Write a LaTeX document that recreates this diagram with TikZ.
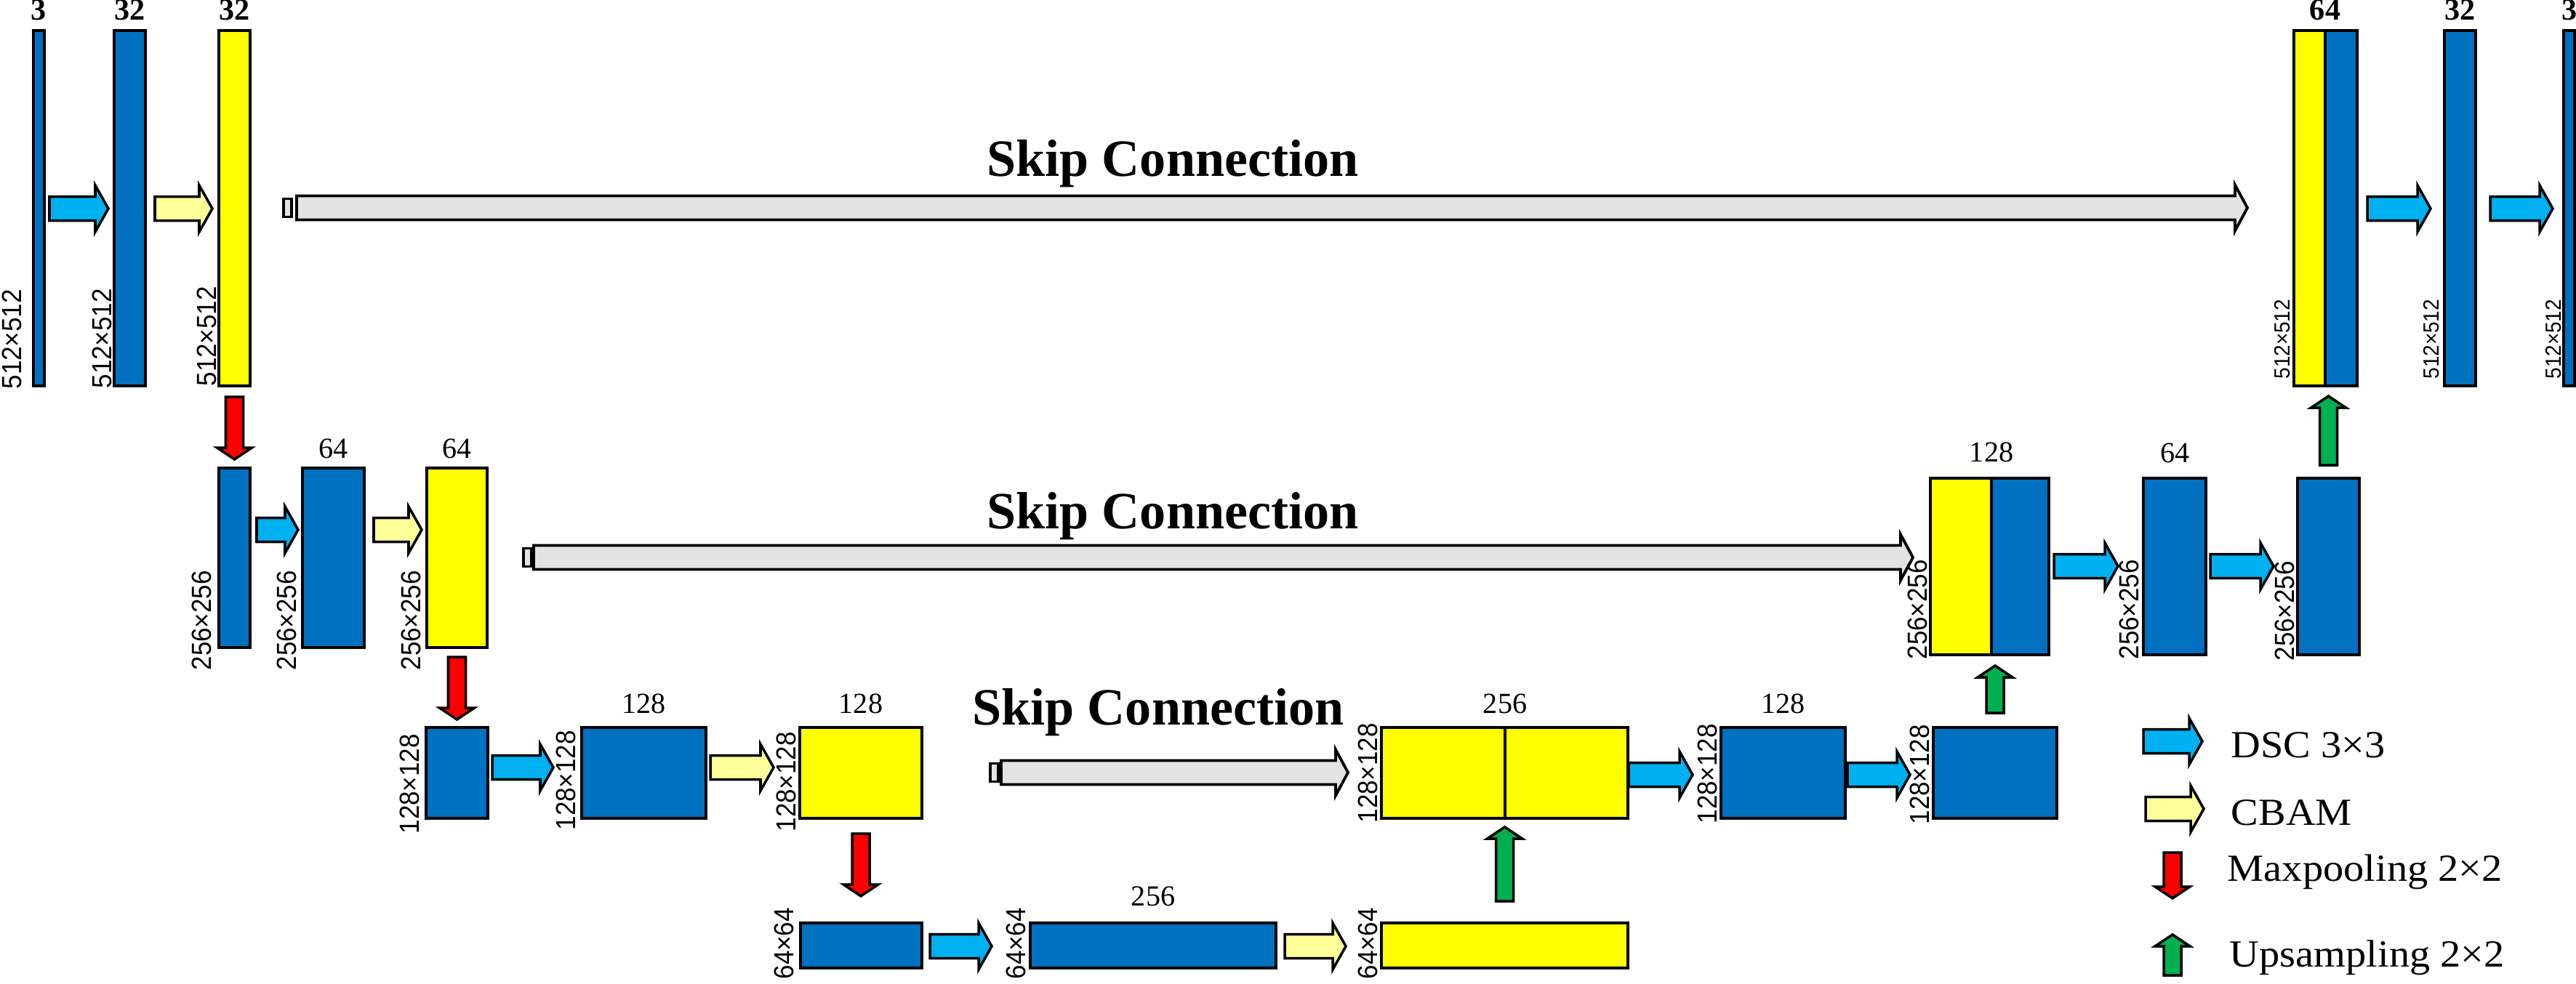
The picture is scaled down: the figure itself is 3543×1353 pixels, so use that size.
\documentclass[tikz,border=0pt]{standalone}
\usepackage{fontspec}
\setmainfont{Liberation Serif}
\newfontfamily\dimfont{Liberation Sans}[FakeStretch=0.92]
\newfontfamily\legfont{Liberation Serif}[FakeStretch=1.07]
\usetikzlibrary{calc,fit,positioning}

\definecolor{mapblue}{HTML}{0070C0}
\definecolor{mapyellow}{HTML}{FFFF00}
\definecolor{dscblue}{HTML}{00B0F0}
\definecolor{cbamyellow}{HTML}{FFFF99}
\definecolor{poolred}{HTML}{FF0000}
\definecolor{upgreen}{HTML}{00B050}
\definecolor{skipgray}{HTML}{E3E3E3}

\tikzset{
  bshaft/.store in=\bshaft, bhead/.store in=\bhead, blen/.store in=\blen,
  bmap/.style={draw, line width=0.9pt, fill=mapblue, inner sep=0pt, outer sep=0pt},
  ymap/.style={bmap, fill=mapyellow},
  dsc/.style={draw, line width=1pt, fill=dscblue, bshaft=0.165cm, bhead=0.32cm, blen=0.18cm},
  cbam/.style={dsc, fill=cbamyellow},
  pool/.style={draw, line width=1pt, fill=poolred, bshaft=0.12cm, bhead=0.24cm, blen=0.16cm},
  upsm/.style={pool, fill=upgreen},
  skiparr/.style={draw, line width=1.1pt, fill=skipgray, bshaft=0.165cm, bhead=0.315cm, blen=0.17cm},
  stripe/.style={draw, line width=1.1pt, fill=skipgray, inner sep=0pt, outer sep=0pt, minimum width=0.11cm, minimum height=0.25cm, anchor=west},
  dimlbl/.style={rotate=90, inner sep=0pt, anchor=south west, font=\dimfont\fontsize{10.8}{12}\selectfont},
  dimsmall/.style={dimlbl, font=\dimfont\fontsize{8.6}{10}\selectfont},
  chan/.style={inner sep=0pt, font=\fontsize{11.4}{13}\selectfont},
  chantop/.style={inner sep=0pt, font=\bfseries\fontsize{12}{14}\selectfont},
  skiptxt/.style={inner sep=0pt, anchor=base, font=\bfseries\fontsize{20.5}{24}\selectfont},
  legtxt/.style={inner sep=0pt, anchor=base west, font=\legfont\fontsize{15}{18}\selectfont}
}

% block arrows: style, tail point, tip point
\newcommand{\harrow}[3]{%
  \draw[#1] let \p1=#2, \p2=#3 in
    (\x1,{\y1+\bshaft}) -- ({\x2-\blen},{\y1+\bshaft}) -- ({\x2-\blen},{\y1+\bhead}) -- (\x2,\y1)
    -- ({\x2-\blen},{\y1-\bhead}) -- ({\x2-\blen},{\y1-\bshaft}) -- (\x1,{\y1-\bshaft}) -- cycle;}
\newcommand{\varrow}[3]{%
  \draw[#1] let \p1=#2, \p2=#3, \n1={(\y2-\y1)/abs(\y2-\y1)} in
    ({\x1+\bshaft},\y1) -- ({\x1+\bshaft},{\y2-(\n1)*\blen}) -- ({\x1+\bhead},{\y2-(\n1)*\blen}) -- (\x1,\y2)
    -- ({\x1-\bhead},{\y2-(\n1)*\blen}) -- ({\x1-\bshaft},{\y2-(\n1)*\blen}) -- ({\x1-\bshaft},\y1) -- cycle;}

\begin{document}
\begin{tikzpicture}[x=0.01cm, y=-0.01cm]
\useasboundingbox (0,0) rectangle (3543,1353);

\coordinate (r1) at (0,287);
\coordinate (r2l) at (0,729);
\coordinate (r2r) at (0,779);
\coordinate (r3l) at (0,1056);
\coordinate (r3r) at (0,1066);
\coordinate (r4) at (0,1302);
\coordinate (s1) at (0,286);
\coordinate (s2) at (0,767);
\coordinate (s3) at (0,1063);

%Level 1 (512x512)
\node[bmap, fit={(46,42) (61,531)}] (A) {};
\node[bmap, fit={(157,42) (200,531)}] (B) {};
\node[ymap, fit={(301,42) (344,531)}] (C) {};
\node[ymap, fit={(3155,42) (3198,531)}] (Cat1a) {};
\node[bmap, fit={(3198,42) (3242,531)}] (Cat1b) {};
\node[bmap, fit={(3362,42) (3405,531)}] (R1) {};
\node[bmap, fit={(3526,42) (3541,531)}] (Out) {};

\node[chantop, above=0.13cm of A] (nA) {3};
\node[chantop, above=0.13cm of B] (nB) {32};
\node[chantop, above=0.13cm of C] (nC) {32};
\node[chantop, above=0.13cm of Cat1a.north east] (nCat1) {64};
\node[chantop, above=0.13cm of R1] (nR1) {32};
\node[chantop, above=0.13cm of Out] (nOut) {3};

\node[dimlbl] (dA) at ($(A.south west)+(-15,5)$) {512×512};
\node[dimlbl] (dB) at ($(B.south west)+(-2,4)$) {512×512};
\node[dimlbl] (dC) at ($(C.south west)+(-2,1)$) {512×512};
\node[dimsmall] (dCat1) at ($(Cat1a.south west)+(-5,-9)$) {512×512};
\node[dimsmall] (dR1) at ($(R1.south west)+(-7,-9)$) {512×512};
\node[dimsmall] (dOut) at ($(Out.south west)+(-3,-9)$) {512×512};

\harrow{dsc}{($(A.east|-r1)+(7,0)$)}{($(B.west|-r1)+(-8,0)$)}
\harrow{cbam}{($(B.east|-r1)+(13,0)$)}{($(C.west|-r1)+(-9,0)$)}
\harrow{dsc}{($(Cat1b.east|-r1)+(14,0)$)}{($(R1.west|-r1)+(-19,0)$)}
\harrow{dsc}{($(R1.east|-r1)+(20,0)$)}{($(Out.west|-r1)+(-15,0)$)}

%Level 2 (256x256)
\node[bmap, fit={(301,644) (344,891)}] (D) {};
\node[bmap, fit={(416,644) (501,891)}] (E) {};
\node[ymap, fit={(587,644) (670,891)}] (F) {};
\node[ymap, fit={(2655,658) (2739,901)}] (Cat2a) {};
\node[bmap, fit={(2739,658) (2818,901)}] (Cat2b) {};
\node[bmap, fit={(2948,658) (3034,901)}] (S2) {};
\node[bmap, fit={(3160,658) (3245,901)}] (T2) {};

\node[chan, above=0.12cm of E] (nE) {64};
\node[chan, above=0.12cm of F] (nF) {64};
\node[chan, above=0.21cm of Cat2a.north east] (nCat2) {128};
\node[chan, above=0.2cm of S2] (nS2) {64};

\node[dimlbl] (dD) at ($(D.south west)+(-9,32)$) {256×256};
\node[dimlbl] (dE) at ($(E.south west)+(-7,32)$) {256×256};
\node[dimlbl] (dF) at ($(F.south west)+(-7,32)$) {256×256};
\node[dimlbl] (dCat2) at ($(Cat2a.south west)+(-3,7)$) {256×256};
\node[dimlbl] (dS2) at ($(S2.south west)+(-5,7)$) {256×256};
\node[dimlbl] (dT2) at ($(T2.south west)+(-3,9)$) {256×256};

\harrow{dsc}{($(D.east|-r2l)+(9,0)$)}{($(E.west|-r2l)+(-6,0)$)}
\harrow{cbam}{($(E.east|-r2l)+(13,0)$)}{($(F.west|-r2l)+(-7,0)$)}
\harrow{dsc}{($(Cat2b.east|-r2r)+(7,0)$)}{($(S2.west|-r2r)+(-35,0)$)}
\harrow{dsc}{($(S2.east|-r2r)+(6,0)$)}{($(T2.west|-r2r)+(-33,0)$)}

%Level 3 (128x128)
\node[bmap, fit={(586,1001) (671,1126)}] (G) {};
\node[bmap, fit={(800,1001) (971,1126)}] (H) {};
\node[ymap, fit={(1100,1001) (1268,1126)}] (I) {};
\node[ymap, fit={(1900,1001) (2070,1126)}] (Cat3a) {};
\node[ymap, fit={(2070,1001) (2239,1126)}] (Cat3b) {};
\node[bmap, fit={(2367,1001) (2538,1126)}] (J) {};
\node[bmap, fit={(2659,1001) (2829,1126)}] (K) {};

\node[chan, above=0.18cm of H] (nH) {128};
\node[chan, above=0.18cm of I] (nI) {128};
\node[chan, above=0.18cm of Cat3a.north east] (nCat3) {256};
\node[chan, above=0.18cm of J] (nJ) {128};

\node[dimlbl] (dG) at ($(G.south west)+(-8,22)$) {128×128};
\node[dimlbl] (dH) at ($(H.south west)+(-7,17)$) {128×128};
\node[dimlbl] (dI) at ($(I.south west)+(-4,19)$) {128×128};
\node[dimlbl] (dCat3) at ($(Cat3a.south west)+(-4,7)$) {128×128};
\node[dimlbl] (dJ) at ($(J.south west)+(-4,8)$) {128×128};
\node[dimlbl] (dK) at ($(K.south west)+(-4,9)$) {128×128};

\harrow{dsc}{($(G.east|-r3l)+(6,0)$)}{($(H.west|-r3l)+(-39,0)$)}
\harrow{cbam}{($(H.east|-r3l)+(6,0)$)}{($(I.west|-r3l)+(-36,0)$)}
\harrow{dsc}{($(Cat3b.east|-r3r)+(1,0)$)}{($(J.west|-r3r)+(-39,0)$)}
\harrow{dsc}{($(J.east|-r3r)+(3,0)$)}{($(K.west|-r3r)+(-32,0)$)}

%Level 4 (64x64)
\node[bmap, fit={(1101,1270) (1268,1332)}] (L) {};
\node[bmap, fit={(1417,1270) (1755,1332)}] (M) {};
\node[ymap, fit={(1900,1270) (2239,1332)}] (N) {};

\node[chan, above=0.22cm of M] (nM) {256};

\node[dimlbl] (dL) at ($(L.south west)+(-8,16)$) {64×64};
\node[dimlbl] (dM) at ($(M.south west)+(-5,16)$) {64×64};
\node[dimlbl] (dN) at ($(N.south west)+(-4,16)$) {64×64};

\harrow{dsc}{($(L.east|-r4)+(11,0)$)}{($(M.west|-r4)+(-53,0)$)}
\harrow{cbam}{($(M.east|-r4)+(12,0)$)}{($(N.west|-r4)+(-49,0)$)}

%Maxpooling and upsampling
\varrow{pool}{($(C.south)+(0,15)$)}{($(D.north)+(0,-12)$)}
\varrow{pool}{($(F.south)+(0,13)$)}{($(G.north)+(0,-11)$)}
\varrow{pool}{($(I.south)+(0,21)$)}{($(L.north)+(0,-37)$)}
\varrow{upsm}{($(N.north)+(0,-30)$)}{($(N.north|-Cat3a.south)+(0,12)$)}
\varrow{upsm}{($(K.north)+(0,-20)$)}{($(K.north|-Cat2a.south)+(0,15)$)}
\varrow{upsm}{($(T2.north)+(0,-18)$)}{($(T2.north|-Cat1a.south)+(0,14)$)}

%Skip connections
\node[stripe] (sk1t) at ($(C.east|-s1)+(46,0)$) {};
\harrow{skiparr}{($(sk1t.east)+(7,0)$)}{($(Cat1a.west|-s1)+(-64,0)$)}
\node[skiptxt] (sk1txt) at (1613,242) {Skip Connection};

\node[stripe] (sk2t) at ($(F.east|-s2)+(50,0)$) {};
\harrow{skiparr}{($(sk2t.east)+(3,0)$)}{($(Cat2a.west|-s2)+(-24,0)$)}
\node[skiptxt] (sk2txt) at (1613,727) {Skip Connection};

\node[stripe] (sk3t) at ($(I.east|-s3)+(94,0)$) {};
\harrow{skiparr}{($(sk3t.east)+(4,0)$)}{($(Cat3a.west|-s3)+(-46,0)$)}
\node[skiptxt] (sk3txt) at (1593,997) {Skip Connection};

%Legend
\coordinate (lg1) at (2948,1020);
\coordinate (lg2) at (2951,1113);
\coordinate (lg3) at (2988,1173);
\coordinate (lg4) at (2988,1342);
\harrow{dsc}{(lg1)}{($(lg1)+(81,0)$)}
\harrow{cbam}{(lg2)}{($(lg2)+(80,0)$)}
\varrow{pool}{(lg3)}{($(lg3)+(0,63)$)}
\varrow{upsm}{(lg4)}{($(lg4)+(0,-56)$)}
\node[legtxt] (tDSC) at (3068,1042) {DSC 3×3};
\node[legtxt] (tCBAM) at (3068,1135) {CBAM};
\node[legtxt] (tPool) at (3063,1212) {Maxpooling 2×2};
\node[legtxt] (tUp) at (3066,1330) {Upsampling 2×2};
\end{tikzpicture}
\end{document}
